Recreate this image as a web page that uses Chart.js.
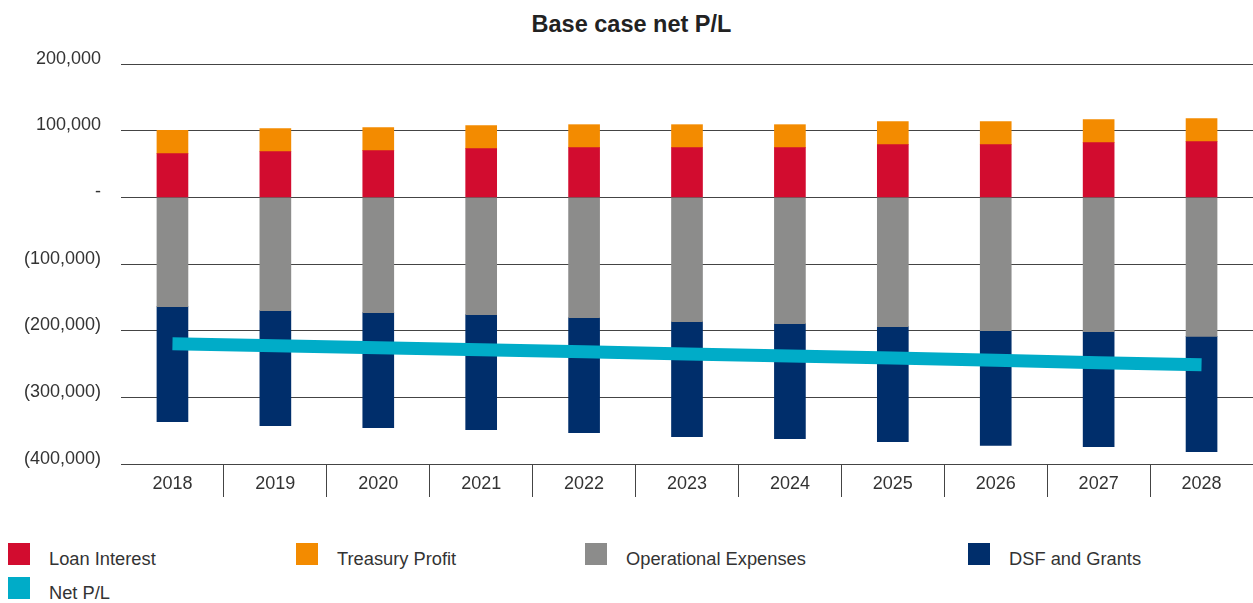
<!DOCTYPE html>
<html>
<head>
<meta charset="utf-8">
<script src="https://cdn.jsdelivr.net/npm/chart.js@4.4.1/dist/chart.umd.min.js"></script>
<style>
  html, body { margin: 0; padding: 0; background: #fff; }
  body { width: 1253px; height: 603px; position: relative; overflow: hidden;
         font-family: "Liberation Sans", Arial, Helvetica, sans-serif; color: #333; }
  #title { position: absolute; left: 0; top: 11px; width: 1263px; text-align: center;
           font-weight: bold; font-size: 23.5px; line-height: 26px; color: #222; }
  #wrap { position: absolute; left: 0; top: 0; width: 1253px; height: 510px; }
  .lg { position: absolute; font-size: 18.3px; line-height: 22px; color: #333; white-space: nowrap; }
  .lg span.sw { position: absolute; left: 0; top: 0; width: 22px; height: 22px; }
  .lg span.tx { position: absolute; left: 41px; top: 5px; }
</style>
</head>
<body>
<div id="title">Base case net P/L</div>
<div id="wrap"><canvas id="c"></canvas></div>
<div id="legend"></div>
<script>
const years = ['2018','2019','2020','2021','2022','2023','2024','2025','2026','2027','2028'];
const loanInterest   = [65500, 68500, 70000, 73000, 74500, 74500, 74500, 79000, 79000, 82000, 83500];
const treasuryProfit = [35000, 34500, 34500, 34500, 34500, 34500, 34500, 34500, 34500, 34500, 34500];
const operationalExpenses = [-164000, -170000, -173000, -176000, -180500, -186500, -189500, -194000, -200000, -201500, -208500];
const dsfAndGrants   = [-172500, -172500, -172500, -172500, -172500, -172500, -172500, -172500, -172000, -172500, -173000];
const netPL          = [-219500, -222500, -225500, -228500, -231500, -235000, -238000, -241000, -244500, -248000, -251000];
const yTickValues = [200000, 100000, 0, -100000, -200000, -300000, -400000];
const yTickLabels = ['200,000', '100,000', '-', '(100,000)', '(200,000)', '(300,000)', '(400,000)'];

const COLORS = { loan: '#d20c2f', treasury: '#f38b00', opex: '#8c8c8b', dsf: '#002e6b', net: '#00acc8' };

const legendItems = [
  { label: 'Loan Interest', color: COLORS.loan, x: 8, y: 543 },
  { label: 'Treasury Profit', color: COLORS.treasury, x: 296, y: 543 },
  { label: 'Operational Expenses', color: COLORS.opex, x: 585, y: 543 },
  { label: 'DSF and Grants', color: COLORS.dsf, x: 968, y: 543 },
  { label: 'Net P/L', color: COLORS.net, x: 8, y: 577 }
];
const lg = document.getElementById('legend');
legendItems.forEach(it => {
  const d = document.createElement('div');
  d.className = 'lg';
  d.style.left = it.x + 'px';
  d.style.top = it.y + 'px';
  d.innerHTML = '<span class="sw" style="background:' + it.color + '"></span><span class="tx">' + it.label + '</span>';
  lg.appendChild(d);
});

const GRID = '#444';

new Chart(document.getElementById('c'), {
  data: {
    labels: years,
    datasets: [
      { type: 'line', label: 'Net P/L', data: netPL, borderColor: COLORS.net, backgroundColor: COLORS.net,
        borderWidth: 13, pointRadius: 0, tension: 0, fill: false, stack: 'net', order: 0, borderCapStyle: 'butt' },
      { type: 'bar', label: 'Loan Interest', data: loanInterest, backgroundColor: COLORS.loan, stack: 's', order: 1, barThickness: 31 },
      { type: 'bar', label: 'Treasury Profit', data: treasuryProfit, backgroundColor: COLORS.treasury, stack: 's', order: 1, barThickness: 31 },
      { type: 'bar', label: 'Operational Expenses', data: operationalExpenses, backgroundColor: COLORS.opex, stack: 's', order: 1, barThickness: 31 },
      { type: 'bar', label: 'DSF and Grants', data: dsfAndGrants, backgroundColor: COLORS.dsf, stack: 's', order: 1, barThickness: 31 }
    ]
  },
  options: {
    responsive: true,
    maintainAspectRatio: false,
    animation: false,
    layout: { padding: { top: 64, left: 0, right: 0, bottom: 0 } },
    plugins: { legend: { display: false }, title: { display: false }, tooltip: { enabled: false } },
    scales: {
      x: {
        stacked: true,
        offset: true,
        border: { display: false },
        grid: {
          offset: true,
          drawOnChartArea: false,
          drawTicks: true,
          tickLength: 33,
          lineWidth: 1,
          color: (ctx) => ctx.index === 0 ? 'rgba(0,0,0,0)' : GRID
        },
        ticks: { color: '#333', font: { family: '"Liberation Sans", Arial, sans-serif', size: 18 }, padding: -24, maxRotation: 0, autoSkip: false },
        afterFit: (s) => { s.height = 46; }
      },
      y: {
        stacked: true,
        min: -400000,
        max: 200000,
        border: { display: false },
        grid: { color: GRID, lineWidth: 1, drawTicks: false },
        afterBuildTicks: (s) => { s.ticks = yTickValues.map(v => ({ value: v })); },
        ticks: {
          color: '#333',
          padding: 20,
          font: { family: '"Liberation Sans", Arial, sans-serif', size: 18, lineHeight: 0.6 },
          callback: (v) => {
            const i = yTickValues.indexOf(v);
            return [i >= 0 ? yTickLabels[i] : '', ''];
          }
        },
        afterFit: (s) => { s.width = 121; }
      }
    }
  }
});
</script>
</body>
</html>
